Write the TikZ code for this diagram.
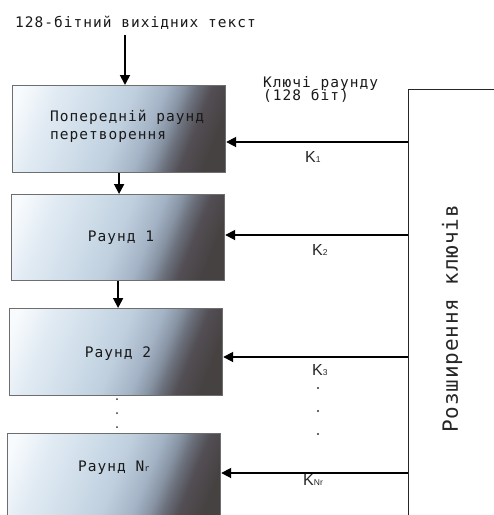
\documentclass[tikz,border=0pt]{standalone}
\usepackage{fontspec}
\setmainfont{DejaVu Sans}
\newfontfamily\monof[LetterSpace=7]{DejaVu Sans Mono}
\newfontfamily\monobig[LetterSpace=4]{DejaVu Sans Mono}
\newfontfamily\arialf{Liberation Sans}
\usetikzlibrary{arrows.meta}
\definecolor{g0}{HTML}{F8FBFD}
\definecolor{g1}{HTML}{E0EAF3}
\definecolor{g2}{HTML}{D0DEEA}
\definecolor{g3}{HTML}{BFCFDE}
\definecolor{g4}{HTML}{A4B4C6}
\definecolor{g5}{HTML}{8894A4}
\definecolor{g6}{HTML}{6A6F7A}
\definecolor{g7}{HTML}{524E54}
\definecolor{g8}{HTML}{474242}
\definecolor{bord}{HTML}{6E6E6E}
\pgfdeclarehorizontalshading{boxsh}{100bp}{color(0bp)=(g0); color(20bp)=(g0); color(30bp)=(g1); color(40bp)=(g2); color(50bp)=(g3); color(58bp)=(g4); color(62.5bp)=(g5); color(66bp)=(g6); color(70bp)=(g7); color(76bp)=(g8); color(100bp)=(g8)}
\tikzset{
  rbox/.style={draw=bord, line width=1.2pt, shading=boxsh, shading angle=-22,
    minimum width=213pt, inner sep=0pt, anchor=north west},
  mtxt/.style={font=\monof\fontsize{14.5}{18}\selectfont, inner sep=0pt, text=black!90},
  ktxt/.style={font=\arialf\fontsize{16}{16}\selectfont, inner sep=0pt, text=black!85},
  arr/.style={line width=1.8pt, -{Triangle[length=10pt,width=10pt]}},
  dotn/.style={circle, fill=black!80, inner sep=0pt, minimum size=2.2pt},
}
\newcommand{\subsm}[1]{{\fontsize{8.5}{8.5}\selectfont #1}}
\begin{document}
\begin{tikzpicture}[x=1pt,y=-1pt]
\useasboundingbox (0,0) rectangle (494,515);
% title
\node[mtxt, anchor=base west] (title) at (15,27) {128-бітний вихідних текст};
% boxes
\node[rbox, minimum height=87pt] (b1) at (12,85) {};
\node[rbox, minimum height=86pt] (b2) at (11,194) {};
\node[rbox, minimum height=87pt] (b3) at (9,308) {};
\node[rbox, minimum height=95pt] (b4) at (7,433) {};
% box texts
\node[mtxt, anchor=base west] (t1a) at (50,121) {Попередній раунд};
\node[mtxt, anchor=base west] (t1b) at (50,139) {перетворення};
\node[mtxt, anchor=base] (t2) at (121,241) {Раунд 1};
\node[mtxt, anchor=base] (t3) at (118,357) {Раунд 2};
\node[mtxt, anchor=base west] (t4) at (78,471) {Раунд N\subsm{r}};
% vertical arrows
\coordinate (a0) at (125,35);
\draw[arr] (a0) -- (a0 |- b1.north);
\draw[arr] (b1.south) -- (b1.south |- b2.north);
\draw[arr] (b2.south) -- (b2.south |- b3.north);
% dots between boxes
\node[dotn, minimum size=2pt] (d1) at (117,399) {};
\node[dotn, minimum size=2pt] (d2) at (117,413) {};
\node[dotn, minimum size=2pt] (d3) at (117,427) {};
% key expansion
\coordinate (kt) at (408,89);
\coordinate (kb) at (408,520);
\coordinate (kr) at (500,89);
\draw[line width=0.9pt, black!85] (kb) -- (kt) -- (kr);
\node[font=\monobig\fontsize{21}{21}\selectfont, rotate=90, inner sep=0pt, text=black!85] (kexp) at (452,319) {Розширення ключів};
\node[mtxt, anchor=base west, font=\monof\fontsize{14.5}{14.5}\selectfont] (kl1) at (263,87) {Ключі раунду};
\node[mtxt, anchor=base west, font=\monof\fontsize{14.5}{14.5}\selectfont] (kl2) at (263,100) {(128 біт)};
% key arrows
\coordinate (k1) at (408,142);
\coordinate (k2) at (408,235);
\coordinate (k3) at (408,357);
\coordinate (k4) at (408,473);
\draw[arr] (k1) -- (k1 -| b1.east);
\draw[arr] (k2) -- (k2 -| b2.east);
\draw[arr] (k3) -- (k3 -| b3.east);
\draw[arr] (k4) -- (k4 -| b4.east);
% key labels
\node[ktxt, anchor=base west] (lk1) at (305,162) {K\subsm{1}};
\node[ktxt, anchor=base west] (lk2) at (312,255) {K\subsm{2}};
\node[ktxt, anchor=base west] (lk3) at (312,375) {K\subsm{3}};
\node[ktxt, anchor=base west] (lk4) at (303,485) {K\subsm{Nr}};
\node[dotn] (e1) at (318,388) {};
\node[dotn] (e2) at (318,411) {};
\node[dotn] (e3) at (318,434) {};
\end{tikzpicture}
\end{document}
